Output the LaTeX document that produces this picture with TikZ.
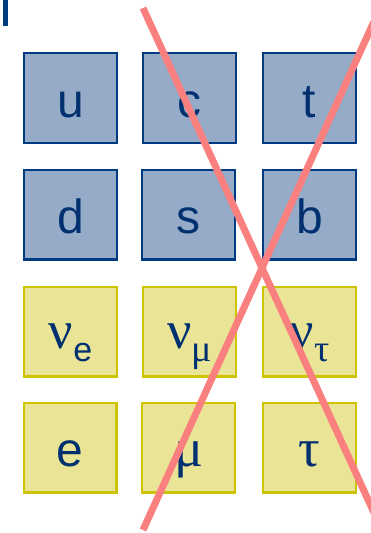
\documentclass[tikz,border=0pt]{standalone}
\usepackage{fontspec}
\setmainfont{Liberation Sans}
\newfontfamily\grk{Liberation Serif}
\definecolor{navy}{RGB}{0,48,112}
\definecolor{bbord}{RGB}{0,58,128}
\definecolor{bfill}{RGB}{150,171,199}
\definecolor{yfill}{RGB}{234,229,150}
\definecolor{ybord}{RGB}{205,195,0}
\definecolor{xred}{RGB}{250,128,128}
\newcommand\grkbig[1]{{\fontsize{54}{54}\grk\selectfont #1}}
\newcommand\grksmall[1]{{\fontsize{38}{38}\grk\selectfont #1}}
\newcommand\nusub[1]{\grkbig{ν}\lower13pt\hbox{\fontsize{34}{34}\selectfont #1}}
\begin{document}
\begin{tikzpicture}[x=1pt,y=-1pt,
  cell/.style={draw, line width=2.2pt, minimum width=92.8pt, minimum height=89.8pt,
    inner sep=0pt, text=navy, font=\fontsize{48}{48}\selectfont, text depth=0pt},
  quark/.style={cell, draw=bbord, fill=bfill, text height=38pt},
  lepton/.style={cell, draw=ybord, fill=yfill, text height=38pt},
  neutrino/.style={lepton, text height=34pt},
  cross/.style={draw=xred, line width=7pt, line cap=butt}]
\useasboundingbox (0,0) rectangle (371,533);
\clip (0,0) rectangle (371,533);
\fill[bbord] (3,0) rectangle (8,26);
% quarks
\node[quark] (u) at (70.5,98) {u};
\node[quark] (c) at (189.5,98) {c};
\node[quark] (t) at (309.5,98) {t};
\node[quark] (d) at (70.5,214.5) {d};
\node[quark] (s) at (188.5,214.5) {s};
\node[quark] (b) at (309.5,214.5) {b};
% leptons
\node[neutrino] (nue) at (70.5,331.5) {\nusub{e}};
\node[neutrino] (numu) at (189.5,331.5) {\nusub{\grksmall{μ}}};
\node[neutrino] (nutau) at (309.5,331.5) {\nusub{\grksmall{τ}}};
\node[lepton] (e) at (70,447.5) {e};
\node[lepton] (mu) at (188.5,447.5) {\grkbig{μ}};
\node[lepton] (tau) at (309.5,447.5) {\grkbig{τ}};
% cross
\coordinate (a1) at (143,8);
\coordinate (a2) at (383.3,533);
\coordinate (b1) at (143,530);
\coordinate (b2) at (386,-5);
\draw[cross] (a1) -- (a2);
\draw[cross] (b1) -- (b2);
\end{tikzpicture}
\end{document}
